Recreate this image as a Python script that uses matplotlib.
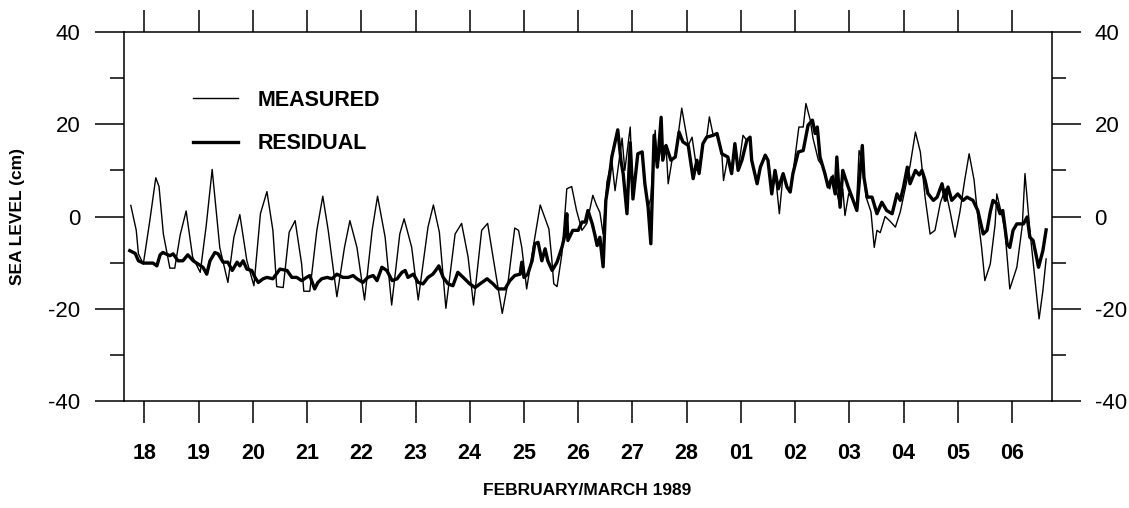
import numpy as np
import matplotlib
matplotlib.use("Agg")
import matplotlib.pyplot as plt
from matplotlib.ticker import MultipleLocator

plt.rcParams['font.family'] = ['Liberation Sans', 'DejaVu Sans']
plt.rcParams['axes.unicode_minus'] = False

# time axis: days after the 18 Feb tick (tick k = k-th day label)
day_labels = ['18', '19', '20', '21', '22', '23', '24', '25', '26',
              '27', '28', '01', '02', '03', '04', '05', '06']

# measured sea level (cm)
meas_t = [-0.25, -0.15, -0.11, -0.02, 0.10, 0.21, 0.27, 0.35, 0.47, 0.56,
          0.66, 0.77, 0.89, 1.03, 1.14, 1.25, 1.39, 1.54, 1.65, 1.76,
          1.89, 2.02, 2.14, 2.26, 2.37, 2.44, 2.56, 2.67, 2.78, 2.90,
          2.94, 3.05, 3.18, 3.29, 3.39, 3.55, 3.69, 3.79, 3.92, 4.06,
          4.20, 4.30, 4.44, 4.56, 4.71, 4.79, 4.93, 5.05, 5.23, 5.33,
          5.44, 5.56, 5.73, 5.85, 5.97, 6.07, 6.22, 6.33, 6.43, 6.60,
          6.71, 6.83, 6.90, 6.96, 7.05, 7.17, 7.30, 7.38, 7.46, 7.51,
          7.55, 7.61, 7.70, 7.79, 7.88, 7.97, 8.07, 8.16, 8.27, 8.34,
          8.40, 8.46, 8.53, 8.62, 8.68, 8.81, 8.86, 8.96, 9.01, 9.10,
          9.18, 9.23, 9.29, 9.34, 9.42, 9.46, 9.53, 9.62, 9.66, 9.73,
          9.79, 9.91, 10.03, 10.10, 10.19, 10.25, 10.30, 10.37, 10.42, 10.49,
          10.56, 10.65, 10.68, 10.76, 10.83, 10.89, 10.95, 11.04, 11.11, 11.17,
          11.20, 11.30, 11.36, 11.45, 11.50, 11.57, 11.63, 11.71, 11.78, 11.85,
          11.91, 11.96, 12.07, 12.15, 12.20, 12.28, 12.33, 12.43, 12.50, 12.57,
          12.64, 12.70, 12.83, 12.88, 12.92, 12.99, 13.07, 13.13, 13.18, 13.24,
          13.31, 13.40, 13.46, 13.51, 13.57, 13.66, 13.75, 13.85, 13.94, 14.03,
          14.12, 14.22, 14.31, 14.40, 14.49, 14.58, 14.68, 14.77, 14.86, 14.95,
          15.04, 15.13, 15.21, 15.30, 15.37, 15.44, 15.50, 15.60, 15.69, 15.72,
          15.82, 15.87, 15.96, 16.09, 16.19, 16.24, 16.33, 16.42, 16.50, 16.57,
          16.63]
meas_v = [2.4, -3.0, -8.1, -10.3, -0.9, 8.4, 6.5, -3.8, -11.2, -11.2,
          -4.0, 1.2, -8.8, -12.1, -2.0, 10.2, -6.7, -14.3, -4.5, 0.4,
          -9.6, -15.0, 0.6, 5.4, -3.0, -15.2, -15.4, -3.4, -0.9, -10.3,
          -16.2, -16.2, -3.0, 4.4, -3.0, -17.4, -6.7, -0.9, -6.7, -18.1,
          -3.0, 4.4, -4.5, -19.2, -3.8, -0.5, -6.7, -18.1, -2.3, 2.5,
          -3.4, -19.9, -3.8, -1.5, -8.8, -19.2, -3.0, -1.5, -8.8, -21.0,
          -13.9, -2.5, -3.0, -6.7, -15.7, -6.7, 2.5, -0.1, -2.7, -8.8,
          -14.6, -15.2, -8.1, 6.0, 6.5, 1.3, -3.0, -1.5, 4.6, 2.4,
          0.9, -3.8, 7.5, 12.2, 5.6, 17.0, 10.0, 19.4, 4.0, 13.6,
          14.0, 7.0, 2.0, 4.0, 18.7, 10.7, 15.0, 15.4, 7.1, 12.2,
          12.9, 23.5, 15.4, 17.2, 10.0, 11.0, 15.8, 17.2, 21.6, 17.6,
          18.0, 13.6, 7.8, 12.9, 9.3, 15.8, 10.0, 17.6, 16.5, 17.2,
          12.2, 7.1, 10.7, 13.3, 12.2, 4.9, 10.0, 0.6, 9.3, 6.4,
          5.3, 9.3, 19.4, 19.4, 24.5, 20.9, 17.0, 12.2, 11.0, 8.0,
          6.0, 9.0, 2.0, 6.0, 0.2, 5.0, 3.5, 1.3, 14.3, 12.0,
          4.2, 1.0, -6.7, -3.0, -3.5, 0.0, -1.0, -2.3, 1.0, 6.0,
          11.0, 18.3, 14.0, 4.0, -3.8, -3.0, 3.0, 6.0, 1.0, -4.5,
          1.0, 8.0, 13.6, 8.0, 0.0, -6.7, -13.9, -10.3, -1.6, 4.9,
          0.0, -3.0, -15.7, -11.0, -2.0, 9.3, -3.0, -13.2, -22.2, -16.1,
          -9.2]

# residual (non-tidal) sea level (cm)
resid_t = [-0.27, -0.17, -0.11, -0.02, 0.16, 0.23, 0.29, 0.34, 0.47, 0.53,
           0.62, 0.71, 0.80, 0.90, 0.99, 1.08, 1.15, 1.21, 1.30, 1.36,
           1.45, 1.54, 1.62, 1.71, 1.76, 1.82, 1.89, 1.98, 2.04, 2.10,
           2.19, 2.26, 2.37, 2.50, 2.63, 2.72, 2.81, 2.90, 2.99, 3.05,
           3.14, 3.20, 3.27, 3.37, 3.46, 3.55, 3.66, 3.76, 3.85, 3.92,
           4.03, 4.12, 4.22, 4.29, 4.38, 4.47, 4.57, 4.66, 4.75, 4.81,
           4.86, 4.96, 5.05, 5.14, 5.23, 5.32, 5.39, 5.43, 5.51, 5.60,
           5.69, 5.78, 5.88, 6.00, 6.10, 6.19, 6.32, 6.43, 6.52, 6.65,
           6.74, 6.83, 6.93, 6.96, 7.00, 7.07, 7.15, 7.20, 7.26, 7.33,
           7.39, 7.44, 7.52, 7.61, 7.70, 7.76, 7.79, 7.81, 7.90, 8.00,
           8.07, 8.13, 8.18, 8.26, 8.31, 8.35, 8.40, 8.46, 8.51, 8.57,
           8.62, 8.73, 8.79, 8.83, 8.90, 8.96, 9.01, 9.10, 9.18, 9.23,
           9.29, 9.34, 9.40, 9.46, 9.53, 9.56, 9.62, 9.71, 9.79, 9.86,
           9.93, 10.03, 10.12, 10.19, 10.23, 10.30, 10.37, 10.49, 10.56, 10.65,
           10.76, 10.83, 10.89, 10.95, 11.02, 11.11, 11.17, 11.20, 11.30, 11.36,
           11.45, 11.50, 11.57, 11.63, 11.69, 11.78, 11.85, 11.91, 11.96, 12.06,
           12.15, 12.24, 12.32, 12.37, 12.41, 12.46, 12.55, 12.61, 12.68, 12.74,
           12.77, 12.83, 12.88, 12.98, 13.07, 13.14, 13.24, 13.27, 13.33, 13.42,
           13.51, 13.60, 13.69, 13.79, 13.88, 13.94, 14.00, 14.07, 14.12, 14.22,
           14.29, 14.34, 14.40, 14.45, 14.55, 14.62, 14.71, 14.77, 14.82, 14.89,
           15.00, 15.10, 15.17, 15.28, 15.37, 15.47, 15.54, 15.60, 15.65, 15.72,
           15.78, 15.83, 15.91, 15.96, 16.02, 16.09, 16.21, 16.28, 16.33, 16.39,
           16.49, 16.57, 16.63]
resid_v = [-7.4, -8.0, -9.6, -10.1, -10.1, -10.7, -8.3, -7.8, -8.5, -8.1,
           -9.6, -9.6, -8.3, -9.6, -10.3, -11.0, -12.5, -9.6, -7.8, -8.1,
           -9.9, -9.9, -11.7, -9.9, -10.7, -9.6, -11.4, -11.7, -13.2, -14.3,
           -13.5, -13.2, -13.5, -11.4, -11.7, -13.2, -13.2, -13.9, -13.2, -12.8,
           -15.7, -14.3, -13.5, -13.2, -13.5, -12.5, -13.2, -13.2, -12.8, -13.5,
           -14.3, -13.2, -12.8, -13.9, -11.0, -11.7, -13.9, -13.5, -12.1, -11.7,
           -13.2, -12.5, -14.3, -14.6, -13.2, -12.5, -11.4, -10.7, -13.2, -14.6,
           -15.0, -12.1, -13.2, -14.6, -15.4, -14.6, -13.5, -14.6, -15.7, -15.7,
           -13.9, -12.8, -12.5, -9.9, -13.2, -12.5, -9.6, -5.9, -5.6, -9.6,
           -7.0, -9.6, -11.7, -9.9, -6.7, -3.8, 0.6, -5.2, -3.0, -3.0,
           -1.2, -1.2, 1.3, -1.6, -4.1, -6.3, -4.5, -10.9, 3.5, 8.0,
           12.9, 18.8, 12.0, 9.3, 0.6, 16.0, 3.8, 13.6, 14.0, 7.1,
           2.0, -5.9, 17.6, 10.7, 21.5, 12.2, 15.4, 12.2, 12.9, 18.3,
           16.2, 15.4, 8.2, 12.2, 9.3, 15.8, 17.2, 17.6, 18.0, 13.6,
           12.9, 9.3, 15.8, 10.0, 12.2, 16.5, 17.2, 12.2, 7.1, 10.7,
           13.3, 12.2, 4.9, 10.0, 6.0, 9.3, 6.4, 5.3, 9.3, 14.0,
           14.3, 19.8, 20.9, 18.0, 19.4, 12.9, 9.3, 6.4, 8.5, 4.9,
           12.9, 2.0, 10.0, 6.4, 3.5, 1.3, 15.4, 8.5, 4.2, 4.2,
           0.6, 3.1, 1.3, 0.6, 4.9, 3.5, 6.4, 10.7, 7.1, 10.0,
           9.0, 10.0, 7.8, 5.0, 3.5, 4.2, 7.1, 3.5, 6.4, 3.5,
           4.9, 3.5, 4.2, 3.5, 1.3, -3.8, -3.0, 1.0, 3.5, 2.8,
           0.6, 1.3, -5.9, -6.7, -3.0, -1.6, -1.6, -0.1, -4.5, -5.2,
           -11.0, -7.4, -2.9]

fig = plt.figure(figsize=(11.29, 5.08), dpi=100)
ax = fig.add_axes([0.1094, 0.2106, 0.8220, 0.7264])

ax.plot(meas_t, meas_v, color='black', linewidth=1.0, label='MEASURED')
ax.plot(resid_t, resid_v, color='black', linewidth=2.4, label='RESIDUAL')

ax.set_xlim(-0.385, 16.73)
ax.set_ylim(-40, 40)

# x axis: day ticks top and bottom, labels only at bottom
ax.set_xticks(np.arange(len(day_labels)))
ax.set_xticklabels(day_labels, fontsize=15.5, fontweight='bold')
ax.tick_params(axis='x', which='major', direction='out', length=16,
               width=1.1, top=True, labeltop=False, pad=14)

# y axis: labels both sides
ax.yaxis.set_major_locator(MultipleLocator(20))
ax.yaxis.set_minor_locator(MultipleLocator(10))
ax.tick_params(axis='y', which='major', direction='out', length=21, width=1.1,
               left=True, right=True, labelleft=True, labelright=True,
               labelsize=16, pad=10)
ax.tick_params(axis='y', which='minor', direction='out', length=10, width=1.1,
               left=True, right=True)

for spine in ax.spines.values():
    spine.set_linewidth(1.1)

ax.set_xlabel('FEBRUARY/MARCH 1989', fontsize=12.5, fontweight='bold', labelpad=14)
fig.text(18 / 1129, 1 - 216.5 / 508, 'SEA LEVEL (cm)', rotation=90,
         fontsize=12.5, fontweight='bold', ha='center', va='center')

ax.legend(loc='upper left', bbox_to_anchor=(0.075, 0.843), frameon=False,
          prop={'size': 15.5, 'weight': 'bold'}, handlelength=2.1,
          handletextpad=0.9, labelspacing=1.04, borderpad=0, borderaxespad=0)

fig.savefig('out.png', dpi=100)
